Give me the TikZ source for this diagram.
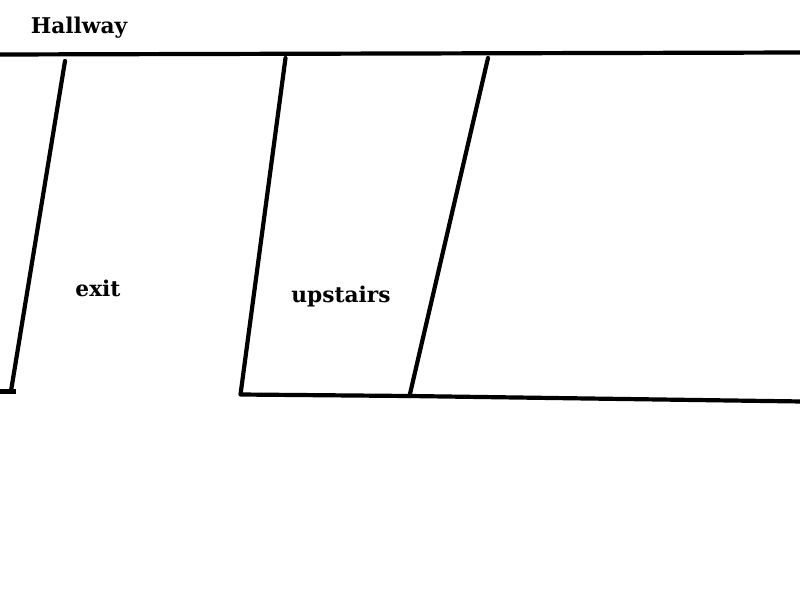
\documentclass[tikz,border=0pt]{standalone}
\usepackage{fontspec}
\setmainfont{DejaVu Serif}
\tikzset{wall/.style={line width=4.2pt,line cap=round,line join=round,black},
lab/.style={font=\bfseries\fontsize{21.7}{24}\selectfont,inner sep=0pt,anchor=base}}
\begin{document}
\begin{tikzpicture}[x=1pt,y=-1pt]
\useasboundingbox (0,0) rectangle (800,600);
\coordinate (hl) at (-3,54.5);
\coordinate (hr) at (803,52.5);
\coordinate (a1) at (65,61);
\coordinate (a2) at (11,391);
\coordinate (a3) at (16,391.5);
\coordinate (a4) at (-3,391.5);
\coordinate (b1) at (285.5,58);
\coordinate (b2) at (240.5,394.5);
\coordinate (c1) at (488,58);
\coordinate (c2) at (409.5,396);
\coordinate (fr) at (803,401.5);
\draw[wall] (hl) -- (hr);
\draw[wall] (a1) -- (a2);
\draw[wall,line cap=butt] (a4) -- (a3);
\draw[wall] (b1) -- (b2) -- (c2) -- (fr);
\draw[wall] (c1) -- (c2);
\node[lab] (t1) at (79,33) {Hallway};
\node[lab] (t2) at (98,296.5) {exit};
\node[lab] (t3) at (341,302.5) {upstairs};
\end{tikzpicture}
\end{document}
